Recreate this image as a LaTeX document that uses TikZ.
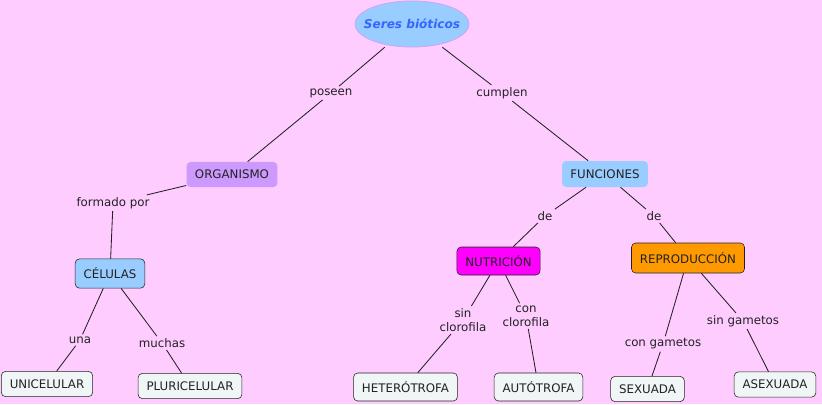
\documentclass[tikz,border=0pt]{standalone}
\usepackage{fontspec}
\setmainfont{DejaVu Sans}
\usepackage{xcolor}
\definecolor{fondo}{HTML}{FFCCFF}
\definecolor{celeste}{HTML}{99CCFF}
\definecolor{lila}{HTML}{CC99FF}
\definecolor{hoja}{HTML}{F0F5F5}
\definecolor{naranja}{HTML}{FF9900}
\definecolor{fucsia}{HTML}{FF00FF}
\definecolor{azul}{HTML}{3366FF}
\definecolor{borde}{HTML}{C8A6F2}
\definecolor{tinta}{HTML}{222222}

\begin{document}
\begin{tikzpicture}[x=0.025cm,y=-0.025cm,
    font=\fontsize{8.4}{10}\selectfont, text=tinta,
    concepto/.style={rectangle, rounded corners=3pt, inner xsep=6pt,
        minimum height=0.63cm},
    hojabox/.style={concepto, draw=tinta, fill=hoja},
    enlace/.style={inner sep=1.5pt, align=center},
    linea/.style={draw=tinta, line width=0.6pt}]
    \fill[fondo] (0,0) rectangle (822,404);
    \useasboundingbox (0,0) rectangle (822,404);
    % raiz
    \filldraw[fill=celeste, draw=borde, line width=0.6pt] (412,24) ellipse (57 and 23);
    \node[minimum width=2.85cm, minimum height=1.15cm, inner sep=0pt, text=azul,
        font=\fontsize{8.6}{10}\selectfont\bfseries\itshape]
        (seres) at (412,24) {Seres bióticos};
    \node[enlace] (poseen) at (331,93) {poseen};
    \node[enlace] (cumplen) at (502,93) {cumplen};
    % rama izquierda
    \node[concepto, fill=lila] (organismo) at (232,174.5) {ORGANISMO};
    \node[enlace] (formado) at (113,203) {formado por};
    \node[concepto, draw=tinta, fill=celeste, minimum height=0.73cm] (celulas) at (110,273.5) {CÉLULAS};
    \node[enlace] (una) at (80,340) {una};
    \node[enlace] (muchas) at (162,343) {muchas};
    \node[hojabox] (uni) at (47,384) {UNICELULAR};
    \node[hojabox] (pluri) at (190,386) {PLURICELULAR};
    % rama derecha
    \node[concepto, fill=celeste, minimum height=0.65cm] (funciones) at (605,174) {FUNCIONES};
    \node[enlace] (deA) at (545,216) {de};
    \node[enlace] (deB) at (654,216) {de};
    \node[concepto, draw=tinta, fill=fucsia, minimum height=0.7cm] (nutricion) at (498.5,261) {NUTRICIÓN};
    \node[concepto, draw=tinta, fill=naranja, minimum height=0.75cm] (repro) at (688,258) {REPRODUCCIÓN};
    \node[enlace] (sinclo) at (463,320) {sin\\clorofila};
    \node[enlace] (conclo) at (526,316) {con\\clorofila};
    \node[enlace] (congam) at (663,344) {con gametos};
    \node[enlace] (singam) at (743,321) {sin gametos};
    \node[hojabox, minimum height=0.7cm] (hetero) at (405.5,387) {HETERÓTROFA};
    \node[hojabox, minimum height=0.7cm] (auto) at (538.5,387) {AUTÓTROFA};
    \node[hojabox] (sexuada) at (647.5,389) {SEXUADA};
    \node[hojabox] (asexuada) at (775,384.5) {ASEXUADA};
    % conectores
    \draw[linea] (seres) -- (poseen) (poseen) -- (organismo);
    \draw[linea] (seres) -- (cumplen) (cumplen) -- (funciones);
    \draw[linea] (organismo) -- (formado) (formado) -- (celulas);
    \draw[linea] (celulas) -- (una) (una) -- (uni);
    \draw[linea] (celulas) -- (muchas) (muchas) -- (pluri);
    \draw[linea] (funciones) -- (deA) (deA) -- (nutricion);
    \draw[linea] (funciones) -- (deB) (deB) -- (repro);
    \draw[linea] (nutricion) -- (sinclo) (sinclo) -- (hetero);
    \draw[linea] (nutricion) -- (conclo) (conclo) -- (auto);
    \draw[linea] (repro) -- (congam) (congam) -- (sexuada);
    \draw[linea] (repro) -- (singam) (singam) -- (asexuada);
\end{tikzpicture}
\end{document}
